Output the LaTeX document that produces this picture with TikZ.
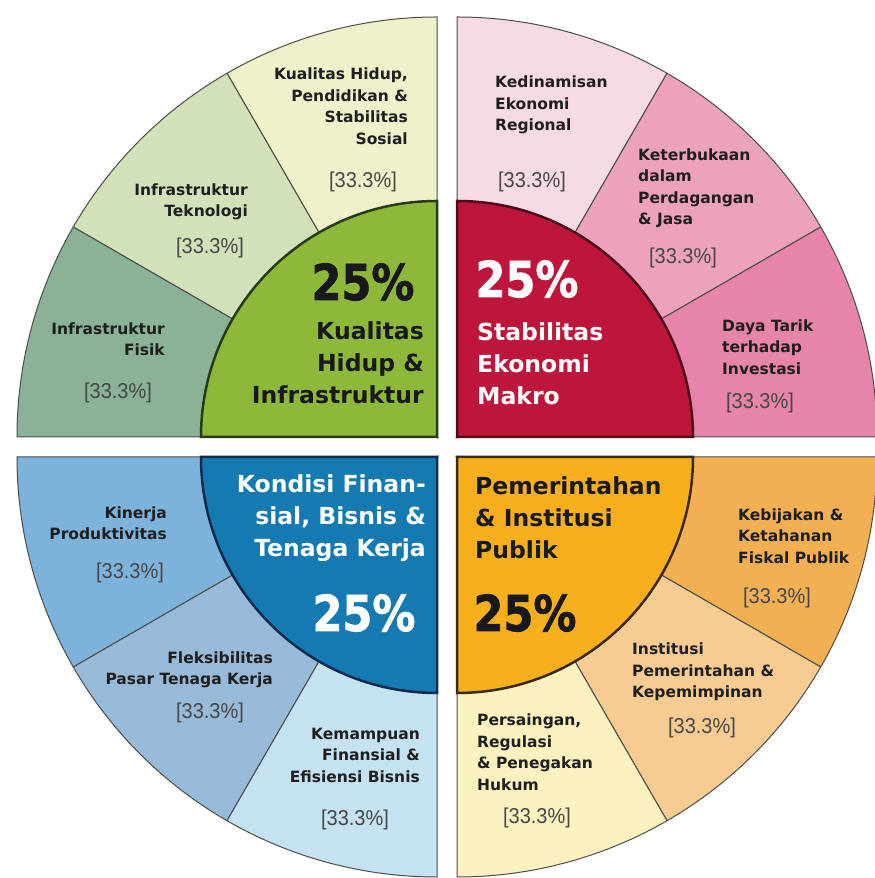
\documentclass[tikz,border=0pt]{standalone}
\usepackage{fontspec}
\setmainfont{DejaVu Sans}
\newfontfamily\pctfont{Liberation Sans}
\newfontfamily\heavyfont{DejaVu Sans}[BoldFeatures={FakeBold=1.6}]
\usetikzlibrary{calc}
\definecolor{tlcore}{RGB}{141,184,58}
\definecolor{tlline}{RGB}{40,60,20}
\definecolor{tlA}{RGB}{240,240,203}
\definecolor{tlB}{RGB}{211,225,184}
\definecolor{tlC}{RGB}{138,178,151}
\definecolor{trcore}{RGB}{190,22,58}
\definecolor{trline}{RGB}{80,10,25}
\definecolor{trA}{RGB}{246,218,228}
\definecolor{trB}{RGB}{236,162,188}
\definecolor{trC}{RGB}{230,132,170}
\definecolor{blcore}{RGB}{22,122,178}
\definecolor{blline}{RGB}{15,45,75}
\definecolor{blA}{RGB}{125,178,218}
\definecolor{blB}{RGB}{150,186,216}
\definecolor{blC}{RGB}{196,226,242}
\definecolor{brcore}{RGB}{246,176,30}
\definecolor{brline}{RGB}{60,40,10}
\definecolor{brA}{RGB}{242,176,82}
\definecolor{brB}{RGB}{246,204,146}
\definecolor{brC}{RGB}{252,242,192}
\newcommand\qsector[4]{\filldraw[seg, fill=#4] (#1) -- ++(#2:420pt) arc[start angle=#2, end angle=#3, radius=420pt] -- cycle;}
\newcommand\qcore[4]{\filldraw[core, draw=#4, fill=#3] (#1) -- ++(#2:236pt) arc[start angle=#2, end angle=#2+90, radius=236pt] -- cycle;}
\tikzset{
  seg/.style={draw=black!70, line width=1pt},
  core/.style={line width=2.5pt},
  lab/.style={font=\bfseries\fontsize{15.5}{21.5}\selectfont, inner sep=0pt, text=black!88},
  labr/.style={lab, align=right, anchor=east},
  labl/.style={lab, align=left, anchor=west},
  pct/.style={font=\pctfont\fontsize{21.5}{24}\selectfont, text=black!72, inner sep=0pt, xscale=0.93},
  ttl/.style={font=\bfseries\fontsize{23.5}{32}\selectfont, inner sep=0pt},
  big/.style={font=\heavyfont\bfseries\fontsize{43}{50}\selectfont, inner sep=0pt, yscale=1.15},
}
\begin{document}
\begin{tikzpicture}[x=1pt,y=1pt]
\useasboundingbox[fill=white] (0,0) rectangle (875,878);
\coordinate (tl) at (437,441);
\coordinate (tr) at (457,441);
\coordinate (bl) at (437,421);
\coordinate (br) at (457,421);
% top left
\qsector{tl}{90}{120}{tlA}
\qsector{tl}{120}{150}{tlB}
\qsector{tl}{150}{180}{tlC}
\qcore{tl}{90}{tlcore}{tlline}
% top right
\qsector{tr}{60}{90}{trA}
\qsector{tr}{30}{60}{trB}
\qsector{tr}{0}{30}{trC}
\qcore{tr}{0}{trcore}{trline}
% bottom left
\qsector{bl}{180}{210}{blA}
\qsector{bl}{210}{240}{blB}
\qsector{bl}{240}{270}{blC}
\qcore{bl}{180}{blcore}{blline}
% bottom right
\qsector{br}{330}{360}{brA}
\qsector{br}{300}{330}{brB}
\qsector{br}{270}{300}{brC}
\qcore{br}{270}{brcore}{brline}
% ---- texts top left
\node[big, text=black!90] (tlbig) at (363,596) {25\%};
\node[ttl, align=right, anchor=east, text=black!90] (tlttl) at (424,515) {Kualitas\\Hidup \&\\Infrastruktur};
\node[labr] (tlAlab) at (408,772) {Kualitas Hidup,\\Pendidikan \&\\Stabilitas\\Sosial};
\node[pct] (tlApct) at (363,696) {[33.3\%]};
\node[labr] (tlBlab) at (248,676) {Infrastruktur\\Teknologi};
\node[pct] (tlBpct) at (210,630) {[33.3\%]};
\node[labr] (tlClab) at (165,539) {Infrastruktur\\Fisik};
\node[pct] (tlCpct) at (118,485) {[33.3\%]};
% ---- texts top right
\node[big, text=white] (trbig) at (527,599) {25\%};
\node[ttl, align=left, anchor=west, text=white] (trttl) at (477,514) {Stabilitas\\Ekonomi\\Makro};
\node[labl] (trAlab) at (495,773) {Kedinamisan\\Ekonomi\\Regional};
\node[pct] (trApct) at (532,696) {[33.3\%]};
\node[labl] (trBlab) at (638,690) {Keterbukaan\\dalam\\Perdagangan\\\& Jasa};
\node[pct] (trBpct) at (683,620) {[33.3\%]};
\node[labl] (trClab) at (722,531) {Daya Tarik\\terhadap\\Investasi};
\node[pct] (trCpct) at (760,475) {[33.3\%]};
% ---- texts bottom left
\node[ttl, align=right, anchor=east, text=white] (blttl) at (426,360) {Kondisi Finan-\\sial, Bisnis \&\\Tenaga Kerja};
\node[big, text=white] (blbig) at (364,265) {25\%};
\node[labr] (blAlab) at (167,355) {Kinerja\\Produktivitas};
\node[pct] (blApct) at (130,305) {[33.3\%]};
\node[labr] (blBlab) at (273,208) {Fleksibilitas\\Pasar Tenaga Kerja};
\node[pct] (blBpct) at (210,165) {[33.3\%]};
\node[labr] (blClab) at (420,123) {Kemampuan\\Finansial \&\\Efisiensi Bisnis};
\node[pct] (blCpct) at (355,58) {[33.3\%]};
% ---- texts bottom right
\node[ttl, align=left, anchor=west, text=black!90] (brttl) at (475,360) {Pemerintahan\\\& Institusi\\Publik};
\node[big, text=black!90] (brbig) at (525,265) {25\%};
\node[labl] (brAlab) at (738,342) {Kebijakan \&\\Ketahanan\\Fiskal Publik};
\node[pct] (brApct) at (777,280) {[33.3\%]};
\node[labl] (brBlab) at (632,206) {Institusi\\Pemerintahan \&\\Kepemimpinan};
\node[pct] (brBpct) at (702,150) {[33.3\%]};
\node[labl] (brClab) at (477,126) {Persaingan,\\Regulasi\\\& Penegakan\\Hukum};
\node[pct] (brCpct) at (537,60) {[33.3\%]};
\end{tikzpicture}
\end{document}
